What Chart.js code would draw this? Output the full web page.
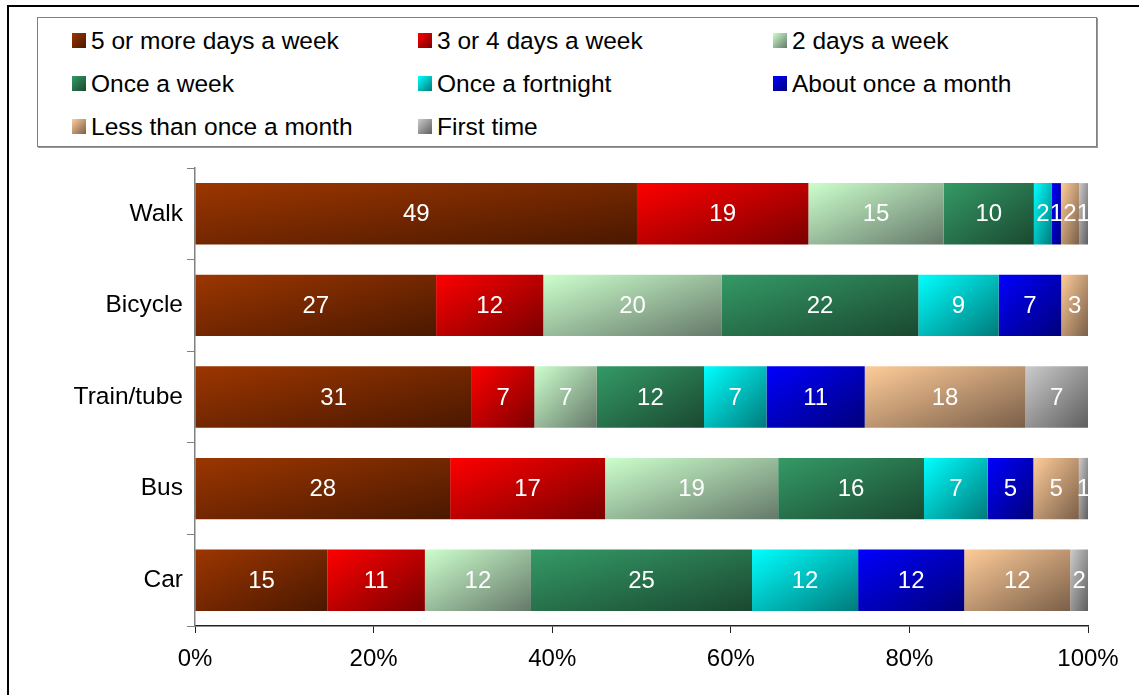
<!DOCTYPE html>
<html>
<head>
<meta charset="utf-8">
<title>Frequency of travelling</title>
<script src="https://cdn.jsdelivr.net/npm/chart.js@4.4.0/dist/chart.umd.min.js"></script>
<style>
  html, body { margin: 0; padding: 0; background: #fff; overflow: hidden; }
  body { width: 1139px; height: 695px; position: relative; font-family: "Liberation Sans", Arial, sans-serif; }
  #title { position: absolute; left: 10px; top: -20px; font-weight: bold; font-size: 18px; white-space: nowrap; }
  #frame { position: absolute; left: 7px; top: 5px; width: 1140px; height: 700px; border-top: 2px solid #000; border-left: 2px solid #000; }
  #legend {
    position: absolute; left: 37px; top: 17px; width: 1060px; height: 130px;
    border: 1px solid #808080; box-shadow: 1px 1px 0 #999; background: #fff;
    box-sizing: border-box; padding: 1px 0 0 34px;
    display: grid; grid-template-columns: 346px 355px auto; grid-auto-rows: 43px;
  }
  .item { display: flex; align-items: center; font-size: 24.5px; color: #000; }
  .swatch { width: 14px; height: 15px; margin-right: 5px; }
  #chart { position: absolute; left: 0; top: 0; }
</style>
</head>
<body>
<div id="title">Figure 3.1: Frequency of travelling</div>
<div id="frame"></div>
<div id="legend"></div>
<canvas id="chart" width="1139" height="695"></canvas>
<script>
// ---------------- data ----------------
const categories = ["Walk", "Bicycle", "Train/tube", "Bus", "Car"];

const fiveOrMore    = [49, 27, 31, 28, 15];
const threeOrFour   = [19, 12, 7, 17, 11];
const twoDays       = [15, 20, 7, 19, 12];
const onceWeek      = [10, 22, 12, 16, 25];
const onceFortnight = [2, 9, 7, 7, 12];
const onceMonth     = [1, 7, 11, 5, 12];
const lessThanMonth = [2, 3, 18, 5, 12];
const firstTime     = [1, 0, 7, 1, 2];

const seriesLabels = [
    "5 or more days a week", "3 or 4 days a week", "2 days a week",
    "Once a week", "Once a fortnight", "About once a month",
    "Less than once a month", "First time"
];
const xTicks = [0, 20, 40, 60, 80, 100];

// light (top-left) and dark (bottom-right) ends of each gradient
const lightColors = ["#9c3600", "#ff0000", "#ccffcc", "#349a66", "#00ffff", "#0000ff", "#ffcc99", "#cccccc"];
const darkColors  = ["#4a1800", "#7a0000", "#65796a", "#1a4830", "#007a7a", "#00007a", "#7a5f48", "#5e5e5e"];

const series = [fiveOrMore, threeOrFour, twoDays, onceWeek, onceFortnight, onceMonth, lessThanMonth, firstTime];

// 100% stacked: each row is scaled to its own total
const totals = categories.map((_, i) => series.reduce((s, arr) => s + arr[i], 0));
const asPercent = arr => arr.map((v, i) => v / totals[i] * 100);

const FONT = "'Liberation Sans', Arial, sans-serif";

// diagonal gradient like the spreadsheet fill (corner to corner, normalised)
function barGradient(c, di) {
    if (c.type !== "data") return lightColors[di];
    const chart = c.chart;
    const xs = chart.scales.x, ys = chart.scales.y;
    if (!xs || !ys) return lightColors[di];
    const idx = c.dataIndex;
    let start = 0;
    for (let k = 0; k < di; k++) start += chart.data.datasets[k].data[idx];
    const end = start + chart.data.datasets[di].data[idx];
    const x0 = xs.getPixelForValue(start);
    const x1 = xs.getPixelForValue(end);
    const band = Math.abs(ys.getPixelForValue(1) - ys.getPixelForValue(0));
    const h = band * 0.67;
    const y0 = ys.getPixelForValue(idx) - h / 2;
    const w = Math.max(x1 - x0, 1);
    if (![x0, x1, y0, h].every(Number.isFinite) || h <= 0) return lightColors[di];
    const S = 1 / (w * w) + 1 / (h * h);
    const g = chart.ctx.createLinearGradient(x0, y0, x0 + 2 / (S * w), y0 + 2 / (S * h));
    g.addColorStop(0, lightColors[di]);
    g.addColorStop(1, darkColors[di]);
    return g;
}

// white value labels in the middle of each segment
const valueLabels = {
    id: "valueLabels",
    afterDatasetsDraw(chart) {
        const ctx = chart.ctx;
        ctx.save();
        ctx.font = "24px " + FONT;
        ctx.fillStyle = "#ffffff";
        ctx.textAlign = "center";
        ctx.textBaseline = "middle";
        chart.data.datasets.forEach((ds, di) => {
            chart.getDatasetMeta(di).data.forEach((bar, i) => {
                const v = ds.rawValues[i];
                if (!v) return;
                const p = bar.getCenterPoint();
                ctx.fillText(String(v), p.x, p.y + 1);
            });
        });
        ctx.restore();
    }
};

const chart = new Chart(document.getElementById("chart"), {
    type: "bar",
    data: {
        labels: categories,
        datasets: series.map((arr, di) => ({
            label: seriesLabels[di],
            data: asPercent(arr),
            rawValues: arr,
            backgroundColor: c => barGradient(c, di),
            borderWidth: 0,
            barPercentage: 1,
            categoryPercentage: 0.67
        }))
    },
    options: {
        indexAxis: "y",
        responsive: false,
        animation: false,
        devicePixelRatio: 1,
        layout: { padding: { top: 168, right: 51, left: 0, bottom: 0 } },
        plugins: {
            legend: { display: false },
            tooltip: { enabled: false }
        },
        scales: {
            x: {
                stacked: true,
                min: 0,
                max: 100,
                afterBuildTicks: s => { s.ticks = xTicks.map(v => ({ value: v })); },
                afterFit: s => { s.height = 69; },
                ticks: {
                    callback: v => v + "%",
                    color: "#000",
                    font: { size: 24, family: FONT },
                    padding: 12,
                    maxRotation: 0
                },
                grid: { drawOnChartArea: false, drawTicks: true, tickLength: 7, color: "#222" },
                border: { color: "#222", width: 1.5 }
            },
            y: {
                stacked: true,
                afterFit: s => { s.width = 195; },
                ticks: {
                    color: "#000",
                    font: { size: 24.5, family: FONT },
                    padding: 4
                },
                grid: { drawOnChartArea: false, drawTicks: true, tickLength: 8, color: "#808080", offset: true },
                border: { color: "#808080", width: 1.5 }
            }
        }
    },
    plugins: [valueLabels]
});

// legend in three columns, built from the datasets
const legendEl = document.getElementById("legend");
chart.data.datasets.forEach((ds, di) => {
    const item = document.createElement("div");
    item.className = "item";
    const sw = document.createElement("span");
    sw.className = "swatch";
    sw.style.background = "linear-gradient(135deg, " + lightColors[di] + ", " + darkColors[di] + ")";
    item.appendChild(sw);
    item.appendChild(document.createTextNode(ds.label));
    legendEl.appendChild(item);
});
</script>
</body>
</html>
